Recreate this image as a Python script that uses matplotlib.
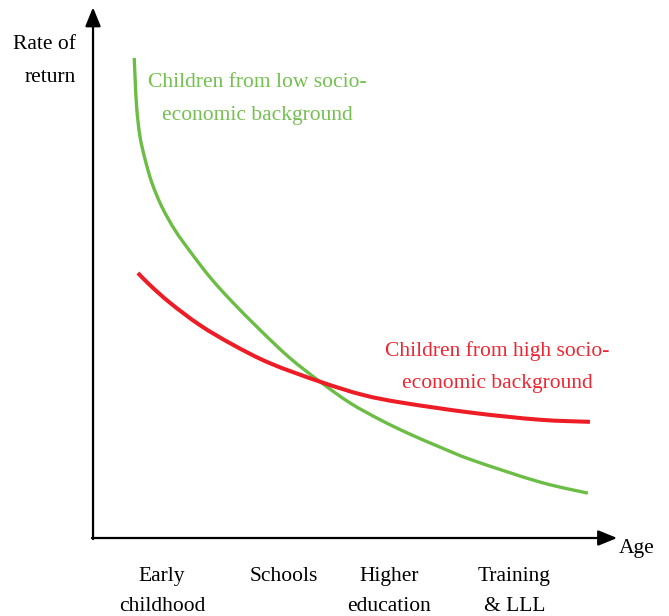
import matplotlib
matplotlib.use("Agg")
import matplotlib.pyplot as plt
import numpy as np
from matplotlib.path import Path
from matplotlib.patches import PathPatch

plt.rcParams['font.family'] = ['Liberation Serif', 'DejaVu Serif']

# curves (x = age position, y = rate of return)
low_x = [0.79, 0.81, 0.84, 0.90, 1.00, 1.13, 1.32, 1.57, 1.88, 2.24, 2.63,
         3.20, 3.77, 4.35, 4.92, 5.50, 6.02, 6.65, 7.28, 8.56, 9.48]
low_y = [9.09, 8.62, 8.11, 7.60, 7.16, 6.72, 6.27, 5.83, 5.40, 4.94, 4.51,
         3.94, 3.41, 2.96, 2.56, 2.24, 1.99, 1.72, 1.47, 1.06, 0.85]

high_x = [0.86, 1.09, 1.48, 2.05, 2.68, 3.39, 4.35, 5.17, 5.94, 7.28, 8.56, 9.52]
high_y = [5.02, 4.79, 4.45, 4.03, 3.66, 3.31, 2.96, 2.71, 2.56, 2.37, 2.24, 2.20]

stage_labels = ['Early\nchildhood', 'Schools', 'Higher\neducation', 'Training\n& LLL']
stage_pos = [1.32, 3.66, 5.67, 8.07]

GREEN = '#6cbd45'
RED = '#ee1c25'


def smooth_curve(xs, ys):
    """Bezier path through the read points (Catmull-Rom handles) so the drawn curve is smooth."""
    pts = np.column_stack([xs, ys])
    n = len(pts)
    verts = [pts[0]]
    codes = [Path.MOVETO]
    for i in range(n - 1):
        p0 = pts[i - 1] if i > 0 else pts[i]
        p3 = pts[i + 2] if i + 2 < n else pts[i + 1]
        c1 = pts[i] + (pts[i + 1] - p0) / 6.0
        c2 = pts[i + 1] - (p3 - pts[i]) / 6.0
        verts += [c1, c2, pts[i + 1]]
        codes += [Path.CURVE4] * 3
    return Path(verts, codes)


fig = plt.figure(figsize=(6.69, 6.16), dpi=100)
ax = fig.add_axes([0, 0, 1, 1])
ax.set_xlim(-1.782, 11.034)
ax.set_ylim(-1.477, 10.189)
ax.axis('off')

# axes drawn as arrows
arrow = dict(arrowstyle='-|>,head_length=1.15,head_width=0.47', color='black', lw=1.6,
             shrinkA=0, shrinkB=0)
ax.annotate('', xy=(0, 10.05), xytext=(0, -0.02), arrowprops=arrow)
ax.annotate('', xy=(10.04, 0), xytext=(-0.02, 0), arrowprops=arrow)

ax.add_patch(PathPatch(smooth_curve(low_x, low_y), fill=False, edgecolor=GREEN,
                       lw=2.4, capstyle='butt'))
ax.add_patch(PathPatch(smooth_curve(high_x, high_y), fill=False, edgecolor=RED,
                       lw=2.9, capstyle='butt'))

fs = 15.5
ax.text(-0.33, 9.34, 'Rate of', ha='right', va='center', fontsize=fs)
ax.text(-0.33, 8.73, 'return', ha='right', va='center', fontsize=fs)

ax.text(3.15, 8.63, 'Children from low socio-', ha='center', va='center', fontsize=fs, color='#74c050')
ax.text(3.15, 8.01, 'economic background', ha='center', va='center', fontsize=fs, color='#74c050')

ax.text(7.74, 3.54, 'Children from high socio-', ha='center', va='center', fontsize=fs, color='#ee2633')
ax.text(7.74, 2.93, 'economic background', ha='center', va='center', fontsize=fs, color='#ee2633')

for pos, lab in zip(stage_pos, stage_labels):
    lines = lab.split('\n')
    for i, line in enumerate(lines):
        ax.text(pos, -0.72 - 0.58 * i, line, ha='center', va='center', fontsize=fs)

ax.text(10.42, -0.20, 'Age', ha='center', va='center', fontsize=fs)

fig.savefig('out.png', dpi=100)
